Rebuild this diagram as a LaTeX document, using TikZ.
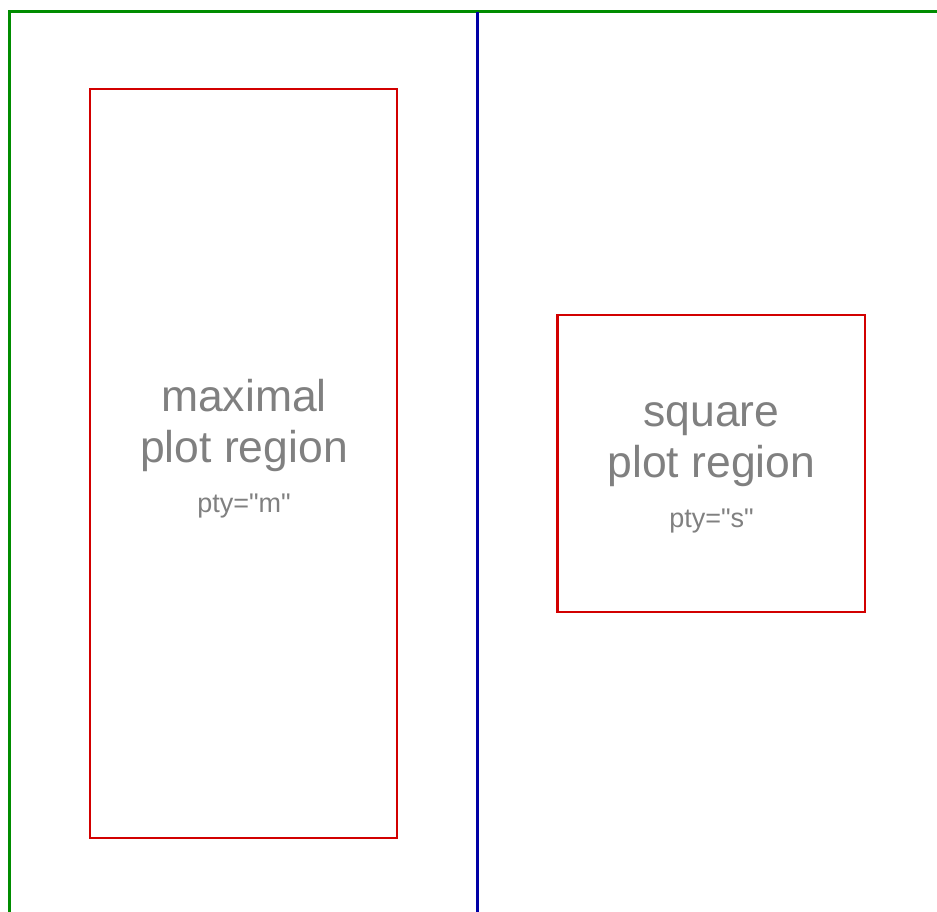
\documentclass[tikz,border=0pt]{standalone}
\usepackage{fontspec}
\setmainfont{Liberation Sans}[Ligatures=TeXOff]
\definecolor{framegreen}{RGB}{0,140,0}
\definecolor{divblue}{RGB}{0,0,165}
\definecolor{regred}{RGB}{210,0,0}
\definecolor{labgrey}{RGB}{128,128,128}
\begin{document}
\begin{tikzpicture}[x=1pt,y=-1pt,
  regionbox/.style={draw=regred,line width=2.4pt,inner sep=0pt},
  bigtext/.style={text=labgrey,anchor=base,inner sep=0pt,font=\fontsize{44.5}{52}\selectfont},
  smalltext/.style={text=labgrey,anchor=base,inner sep=0pt,font=\fontsize{27}{32}\selectfont}]
\useasboundingbox (0,0) rectangle (937,911);
% outer frame (green)
\coordinate (gBL) at (9.5,912);
\coordinate (gTL) at (9.5,11.5);
\coordinate (gTR) at (938,11.5);
\draw[framegreen,line width=2.6pt] (gBL) -- (gTL) -- (gTR);
% divider (blue)
\coordinate (bT) at (477.5,11.5);
\coordinate (bB) at (477.5,912);
\draw[divblue,line width=2.6pt] (bT) -- (bB);
% regions
\node[regionbox,minimum width=307pt,minimum height=749pt] (maxreg) at (243.5,463.5) {};
\node[regionbox,minimum width=307.5pt,minimum height=297pt] (sqreg) at (711.25,463.5) {};
% labels
\node[bigtext] (m1) at (244,411) {maximal};
\node[bigtext] (m2) at (244,462) {plot region};
\node[smalltext] (m3) at (244,512) {pty="m"};
\node[bigtext] (s1) at (711.5,426) {square};
\node[bigtext] (s2) at (711.5,477) {plot region};
\node[smalltext] (s3) at (711.5,527) {pty="s"};
\end{tikzpicture}
\end{document}
